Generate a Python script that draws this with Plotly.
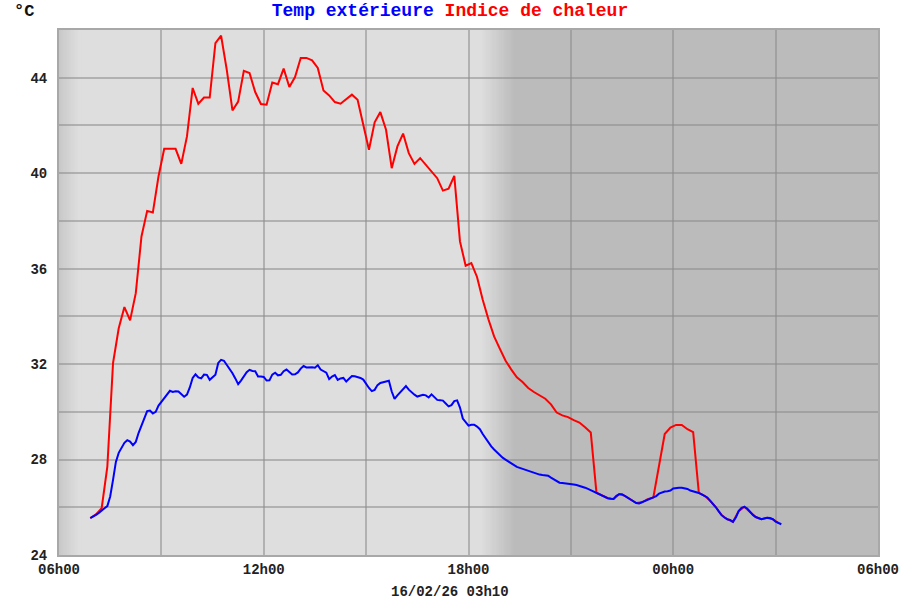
import plotly.graph_objects as go
import pandas as pd

# ---------------- data ----------------
temp_start = "2026-02-15 06:55"   # 5-minute readings
temp_ext = [
    25.55, 25.6, 25.68, 25.76, 25.88, 25.96, 26.05, 26.45, 27.15, 27.9,
    28.28, 28.5, 28.7, 28.81, 28.75, 28.6, 28.74, 29.12, 29.45, 29.75,
    30.03, 30.05, 29.93, 30.0, 30.26, 30.42, 30.59, 30.75, 30.88, 30.83,
    30.86, 30.85, 30.74, 30.63, 30.72, 31.02, 31.42, 31.57, 31.44, 31.4,
    31.56, 31.55, 31.34, 31.44, 31.55, 32.05, 32.18, 32.14, 31.97, 31.77,
    31.62, 31.4, 31.16, 31.31, 31.47, 31.66, 31.76, 31.71, 31.7, 31.48,
    31.48, 31.46, 31.31, 31.32, 31.56, 31.64, 31.53, 31.55, 31.7, 31.77,
    31.67, 31.56, 31.57, 31.65, 31.81, 31.92, 31.86, 31.88, 31.87, 31.85,
    31.95, 31.77, 31.72, 31.64, 31.37, 31.48, 31.54, 31.34, 31.4, 31.42,
    31.27, 31.39, 31.5, 31.49, 31.47, 31.42, 31.35, 31.17, 31.0, 30.87,
    30.92, 31.12, 31.21, 31.24, 31.28, 31.3, 30.85, 30.54, 30.69, 30.83,
    30.98, 31.08, 30.93, 30.81, 30.72, 30.64, 30.68, 30.71, 30.69, 30.6,
    30.73, 30.61, 30.5, 30.49, 30.47, 30.35, 30.23, 30.28,
    30.45, 30.48, 30.18, 29.72, 29.55, 29.42, 29.46, 29.46, 29.38, 29.27, 29.07, 28.89,
    28.72, 28.55, 28.42, 28.3, 28.19, 28.08, 28.0, 27.92, 27.84, 27.76,
    27.69, 27.65, 27.61, 27.56, 27.51, 27.47, 27.43, 27.4, 27.37, 27.35,
    27.34, 27.32, 27.24, 27.17, 27.08, 27.03, 27.02, 27.01, 27.0, 26.98,
    26.95, 26.93, 26.9, 26.87, 26.82,
    26.77, 26.71, 26.66, 26.61, 26.55,
    26.5, 26.43, 26.38, 26.36, 26.35, 26.48, 26.55, 26.55, 26.48, 26.38,
    26.32, 26.27, 26.18, 26.16, 26.21, 26.27, 26.34, 26.39, 26.41, 26.47,
    26.57, 26.63, 26.66, 26.67, 26.7, 26.79, 26.82, 26.82, 26.82, 26.81,
    26.77, 26.7, 26.67, 26.65, 26.6, 26.54, 26.48, 26.41, 26.27, 26.14,
    26.0, 25.83, 25.67, 25.57, 25.5, 25.47, 25.39, 25.57, 25.84, 25.98,
    26.02, 25.95, 25.8, 25.68, 25.59, 25.54, 25.5, 25.53, 25.56, 25.55,
    25.5, 25.4, 25.34, 25.29,
]

heat_start = "2026-02-15 06:55"   # 10-minute readings
heat_index = [
    25.55, 25.7, 25.96, 27.7, 32.04, 33.5, 34.39, 33.83, 34.97, 37.35,
    38.42, 38.35, 39.87, 41.02, 41.02, 41.02, 40.39, 41.54, 43.57, 42.91,
    43.17, 43.17, 45.45, 45.76, 44.33, 42.63, 43.0, 44.29, 44.2, 43.4,
    42.9, 42.87, 43.8, 43.73, 44.38, 43.61, 44.03, 44.83, 44.83, 44.73,
    44.41, 43.47, 43.26, 42.98, 42.91, 43.11, 43.29, 43.08, 41.99, 40.98,
    42.13, 42.56, 41.82, 40.21, 41.12, 41.66, 40.84, 40.39, 40.63, 40.35,
    40.07, 39.79, 39.27, 39.35, 39.89, 37.14, 36.12, 36.23,
    35.65, 34.7, 33.88, 33.16, 32.65, 32.15, 31.78, 31.45, 31.25, 31.0,
    30.83, 30.7, 30.55, 30.31, 29.97, 29.85, 29.78, 29.65, 29.55, 29.35, 29.13,
    26.61, 26.5, 26.38, 26.35, 26.55, 26.48, 26.32, 26.18, 26.21, 26.34,
    26.41, 27.8, 29.07, 29.34, 29.45, 29.45, 29.27, 29.15, 26.6, 26.48,
    26.27, 26.0, 25.67, 25.5, 25.39, 25.84, 26.02, 25.8, 25.59, 25.5,
    25.56, 25.5, 25.34,
]

x_tick_values = pd.date_range("2026-02-15 06:00", "2026-02-16 06:00", freq="3h")
x_tick_labels = ["06h00", "", "12h00", "", "18h00", "", "00h00", "", "06h00"]
y_tick_values = list(range(24, 47, 2))
y_tick_labels = ["24", "", "28", "", "32", "", "36", "", "40", "", "44", ""]

series_names = ["Temp extérieure", "Indice de chaleur"]
footer_text = "16/02/26 03h10"
unit_text = "°C"

# day / night periods
dawn_start, dawn_end = "2026-02-15 05:38", "2026-02-15 06:35"
dusk_start, dusk_end = "2026-02-15 18:22", "2026-02-15 19:22"
night_end = "2026-02-16 06:00"

# ---------------- figure ----------------
temp_times = pd.date_range(temp_start, periods=len(temp_ext), freq="5min")
heat_times = pd.date_range(heat_start, periods=len(heat_index), freq="10min")

DAY, NIGHT = 222, 187
FONT = "Liberation Mono, Courier New, monospace"

fig = go.Figure()
fig.add_trace(go.Scatter(x=heat_times, y=heat_index, mode="lines", name=series_names[1],
                         line=dict(color="#ff0000", width=2)))
fig.add_trace(go.Scatter(x=temp_times, y=temp_ext, mode="lines", name=series_names[0],
                         line=dict(color="#0000ff", width=2)))

shapes = []


def gradient(t0, t1, c0, c1, n=40):
    # overlapping strips (each runs to the end) so no seams appear
    t0, t1 = pd.Timestamp(t0), pd.Timestamp(t1)
    step = (t1 - t0) / n
    for i in range(n):
        f = (i + 0.5) / n
        c = round(c0 + (c1 - c0) * f)
        shapes.append(dict(type="rect", xref="x", yref="paper",
                           x0=t0 + step * i, x1=t1 + pd.Timedelta("5min"),
                           y0=0, y1=1, fillcolor=f"rgb({c},{c},{c})",
                           line=dict(width=0), layer="below"))


gradient(dawn_start, dawn_end, NIGHT, DAY)
gradient(dusk_start, dusk_end, DAY, NIGHT)
shapes.append(dict(type="rect", xref="x", yref="paper", x0=dusk_end, x1=night_end,
                   y0=0, y1=1, fillcolor=f"rgb({NIGHT},{NIGHT},{NIGHT})",
                   line=dict(width=0), layer="below"))

title_html = (f'<span style="color:#0000ff">{series_names[0]}</span> '
              f'<span style="color:#ff0000">{series_names[1]}</span>')

fig.update_layout(
    width=900, height=600,
    margin=dict(l=59, r=22, t=30, b=45),
    paper_bgcolor="white",
    plot_bgcolor=f"rgb({DAY},{DAY},{DAY})",
    showlegend=False,
    shapes=shapes,
    font=dict(family=FONT, size=14, color="#222222"),
    title=dict(text=title_html, x=0.5, xref="container", xanchor="center",
               y=1 - 10 / 600, yref="container", yanchor="middle",
               font=dict(family=FONT, size=18, weight="bold")),
    xaxis=dict(range=["2026-02-15 06:00", "2026-02-16 06:00"],
               tickvals=x_tick_values, ticktext=x_tick_labels,
               showgrid=True, gridcolor="rgba(140,140,140,0.55)", gridwidth=2,
               showline=True, mirror=True, linecolor="#a8a8a8", linewidth=2,
               ticks="", zeroline=False, automargin=False,
               tickfont=dict(family=FONT, size=14, weight="bold", color="#222222")),
    yaxis=dict(range=[24, 46], tickvals=y_tick_values, ticktext=y_tick_labels,
               showgrid=True, gridcolor="rgba(140,140,140,0.55)", gridwidth=2,
               showline=True, mirror=True, linecolor="#a8a8a8", linewidth=2,
               ticks="", zeroline=False, ticklabelstandoff=7, automargin=False,
               tickfont=dict(family=FONT, size=14, weight="bold", color="#222222")),
    annotations=[
        dict(text=unit_text, xref="paper", yref="paper", x=(12 - 59) / 819, y=(555 - 11) / 525,
             xanchor="left", yanchor="middle", showarrow=False,
             font=dict(family=FONT, size=17, weight="bold", color="#111111")),
        dict(text=footer_text, xref="paper", yref="paper", x=(450 - 59) / 819, y=(555 - 592) / 525,
             xanchor="center", yanchor="middle", showarrow=False,
             font=dict(family=FONT, size=14, weight="bold", color="#222222")),
    ],
)

fig.write_html("out.html", config={"displayModeBar": False},
               post_script="document.body.style.margin='0px';")
